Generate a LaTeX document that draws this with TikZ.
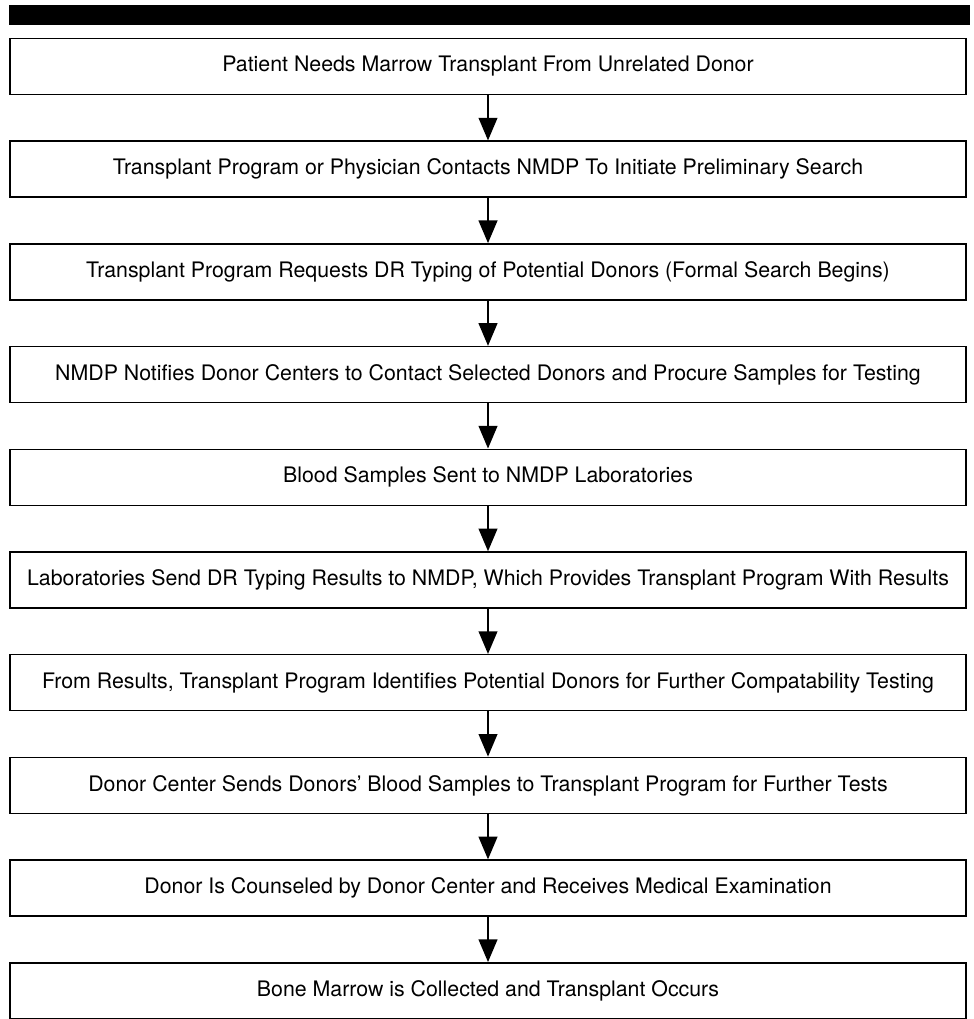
\documentclass[tikz,border=0pt]{standalone}
\usepackage{fontspec}
\setmainfont{TeX Gyre Heros}
\usepackage{tikz}
\usetikzlibrary{arrows.meta}
\usetikzlibrary{positioning}
\tikzset{
    stepbox/.style={draw=black, line width=1.1pt, minimum width=717pt,
        minimum height=42pt, inner sep=0pt, font=\fontsize{16pt}{18pt}\selectfont},
    flow/.style={draw=black, line width=1.5pt,
        -{Triangle[length=17pt, width=14pt]}},
    topbar/.style={fill=black, draw=none},
}

\begin{document}
\begin{tikzpicture}[x=0.75pt, y=-0.75pt]
	\useasboundingbox (0,0) rectangle (973,1019);
	\fill[topbar] (9,5) rectangle (970,25);
	% the steps
	\node[stepbox] (patient) at (488,66.5) {Patient Needs Marrow Transplant From Unrelated Donor};
	\node[stepbox] (contact) at (488,169.2) {Transplant Program or Physician Contacts NMDP To Initiate Preliminary Search};
	\node[stepbox] (request) at (488,271.9) {Transplant Program Requests DR Typing of Potential Donors (Formal Search Begins)};
	\node[stepbox] (notify) at (488,374.6) {NMDP Notifies Donor Centers to Contact Selected Donors and Procure Samples for Testing};
	\node[stepbox] (samples) at (488,477.3) {Blood Samples Sent to NMDP Laboratories};
	\node[stepbox] (typing) at (488,580) {Laboratories Send DR Typing Results to NMDP, Which Provides Transplant Program With Results};
	\node[stepbox] (identify) at (488,682.7) {From Results, Transplant Program Identifies Potential Donors for Further Compatability Testing};
	\node[stepbox] (tests) at (488,785.4) {Donor Center Sends Donors' Blood Samples to Transplant Program for Further Tests};
	\node[stepbox] (counsel) at (488,888.1) {Donor Is Counseled by Donor Center and Receives Medical Examination};
	\node[stepbox] (collect) at (488,990.8) {Bone Marrow is Collected and Transplant Occurs};
	% arrows
	\draw[flow] (patient)--(contact);
	\draw[flow] (contact)--(request);
	\draw[flow] (request)--(notify);
	\draw[flow] (notify)--(samples);
	\draw[flow] (samples)--(typing);
	\draw[flow] (typing)--(identify);
	\draw[flow] (identify)--(tests);
	\draw[flow] (tests)--(counsel);
	\draw[flow] (counsel)--(collect);
\end{tikzpicture}
\end{document}
